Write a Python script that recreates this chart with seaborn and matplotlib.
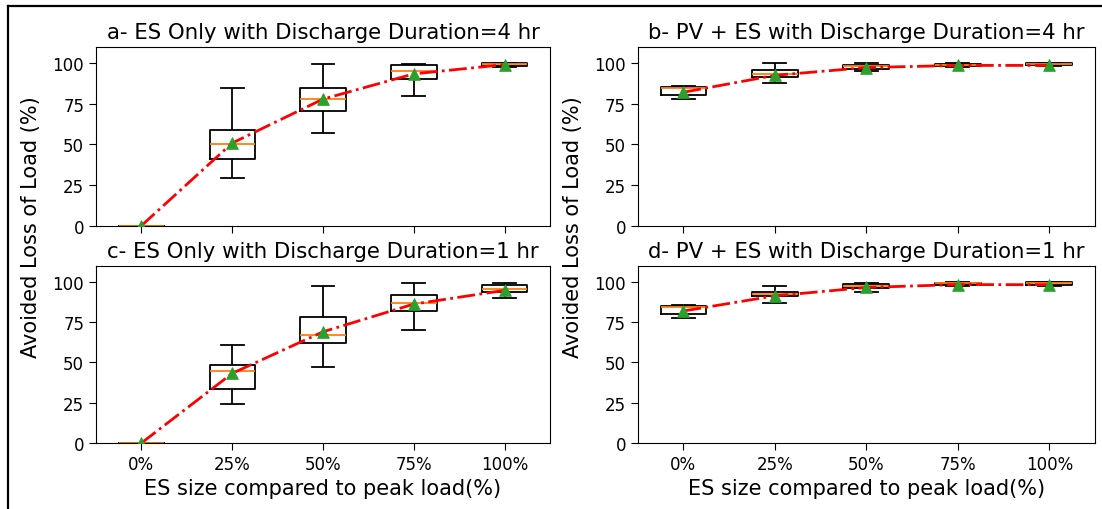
import matplotlib
matplotlib.use("Agg")
import matplotlib.pyplot as plt
from matplotlib.lines import Line2D
import pandas as pd
import seaborn as sns

sizes = ["0%", "25%", "50%", "75%", "100%"]

# a- ES only, 4 hr discharge: whisker ends, quartiles, median and mean (%)
a_low = [0, 29.3, 57.1, 80.0, 97.5]
a_q1 = [0, 41.0, 70.7, 90.4, 98.4]
a_med = [0, 50.2, 77.6, 94.9, 99.4]
a_q3 = [0, 58.9, 84.5, 98.8, 99.8]
a_high = [0, 84.8, 99.6, 99.6, 100.0]
a_mean = [0, 50.8, 77.8, 93.3, 99.0]

# b- PV + ES, 4 hr discharge
b_low = [77.6, 87.8, 95.0, 97.5, 98.0]
b_q1 = [80.6, 91.4, 96.3, 98.0, 98.5]
b_med = [84.5, 93.5, 98.0, 99.0, 99.3]
b_q3 = [85.2, 95.5, 98.9, 99.5, 99.8]
b_high = [85.6, 99.8, 99.8, 100.0, 100.0]
b_mean = [82.0, 92.4, 97.2, 98.5, 98.5]

# c- ES only, 1 hr discharge
c_low = [0, 23.9, 47.2, 70.0, 89.8]
c_q1 = [0, 33.7, 61.8, 82.2, 93.7]
c_med = [0, 44.4, 67.3, 86.8, 95.3]
c_q3 = [0, 48.7, 77.9, 91.9, 98.2]
c_high = [0, 60.6, 97.7, 99.2, 99.2]
c_mean = [0, 43.2, 69.0, 86.2, 94.7]

# d- PV + ES, 1 hr discharge
d_low = [77.3, 86.8, 93.9, 97.5, 97.5]
d_q1 = [80.3, 90.9, 95.9, 98.0, 98.3]
d_med = [84.6, 92.3, 97.4, 99.0, 99.2]
d_q3 = [85.2, 93.7, 98.6, 99.5, 99.8]
d_high = [85.6, 97.6, 99.4, 100.0, 100.0]
d_mean = [81.9, 91.3, 96.5, 98.3, 98.2]

titles = [
    "a- ES Only with Discharge Duration=4 hr",
    "b- PV + ES with Discharge Duration=4 hr",
    "c- ES Only with Discharge Duration=1 hr",
    "d- PV + ES with Discharge Duration=1 hr",
]
y_ticks = [0, 25, 50, 75, 100]
x_label = "ES size compared to peak load(%)"
y_label = "Avoided Loss of Load (%)"

panels = [
    (a_low, a_q1, a_med, a_q3, a_high, a_mean),
    (b_low, b_q1, b_med, b_q3, b_high, b_mean),
    (c_low, c_q1, c_med, c_q3, c_high, c_mean),
    (d_low, d_q1, d_med, d_q3, d_high, d_mean),
]

W, H = 1102, 510
fig = plt.figure(figsize=(W / 100, H / 100), dpi=100)

# axes rectangles in pixels: left, right, top, bottom
rects = [
    (96, 550, 47.7, 226.7),
    (637.7, 1095, 47.7, 226.7),
    (96, 550, 266.7, 444),
    (637.7, 1095, 266.7, 444),
]


def summary_frame(low, q1, med, q3, high):
    rows = []
    for i, s in enumerate(sizes):
        for v in (low[i], q1[i], med[i], q3[i], high[i]):
            rows.append({"size": s, "value": v})
    return pd.DataFrame(rows)


for k, (stats, rect) in enumerate(zip(panels, rects)):
    l, r, t, b = rect
    ax = fig.add_axes([l / W, 1 - b / H, (r - l) / W, (b - t) / H])
    low, q1, med, q3, high, mean = stats
    df = summary_frame(low, q1, med, q3, high)
    sns.boxplot(
        data=df, x="size", y="value", order=sizes, ax=ax,
        whis=(0, 100), width=0.5, fill=False, color="black", linewidth=1.3,
        medianprops={"color": "#ff7f0e", "linewidth": 1.3},
        showfliers=False,
    )
    mdf = pd.DataFrame({"size": sizes, "mean": mean})
    sns.lineplot(data=mdf, x="size", y="mean", ax=ax, color="red",
                 linestyle="-.", linewidth=2.0, sort=False, zorder=3)
    sns.scatterplot(data=mdf, x="size", y="mean", ax=ax, marker="^",
                    color="#2ca02c", edgecolor="#2ca02c", s=70, zorder=4)
    ax.set_xlim(-0.5, 4.5)
    ax.set_ylim(0, 110)
    ax.set_yticks(y_ticks)
    ax.set_xlabel("")
    ax.set_ylabel("")
    ax.set_title(titles[k], fontsize=15.3, pad=6)
    ax.tick_params(labelsize=12, length=5)
    if k < 2:
        ax.tick_params(labelbottom=False)
    else:
        ax.set_xlabel(x_label, fontsize=15, labelpad=4)

# shared y labels for each column
fig.text(31 / W, 1 - 227.5 / H, y_label, rotation=90, fontsize=15,
         ha="center", va="center")
fig.text(572.5 / W, 1 - 227.5 / H, y_label, rotation=90, fontsize=15,
         ha="center", va="center")

# outer frame along the left and top edges
fig.add_artist(Line2D([7.5 / W, 7.5 / W], [0, 1 - 6.5 / H], color="black",
                      linewidth=1.6, transform=fig.transFigure))
fig.add_artist(Line2D([7.5 / W, 1], [1 - 6.5 / H, 1 - 6.5 / H], color="black",
                      linewidth=1.6, transform=fig.transFigure))

fig.savefig("out.png", dpi=100)
